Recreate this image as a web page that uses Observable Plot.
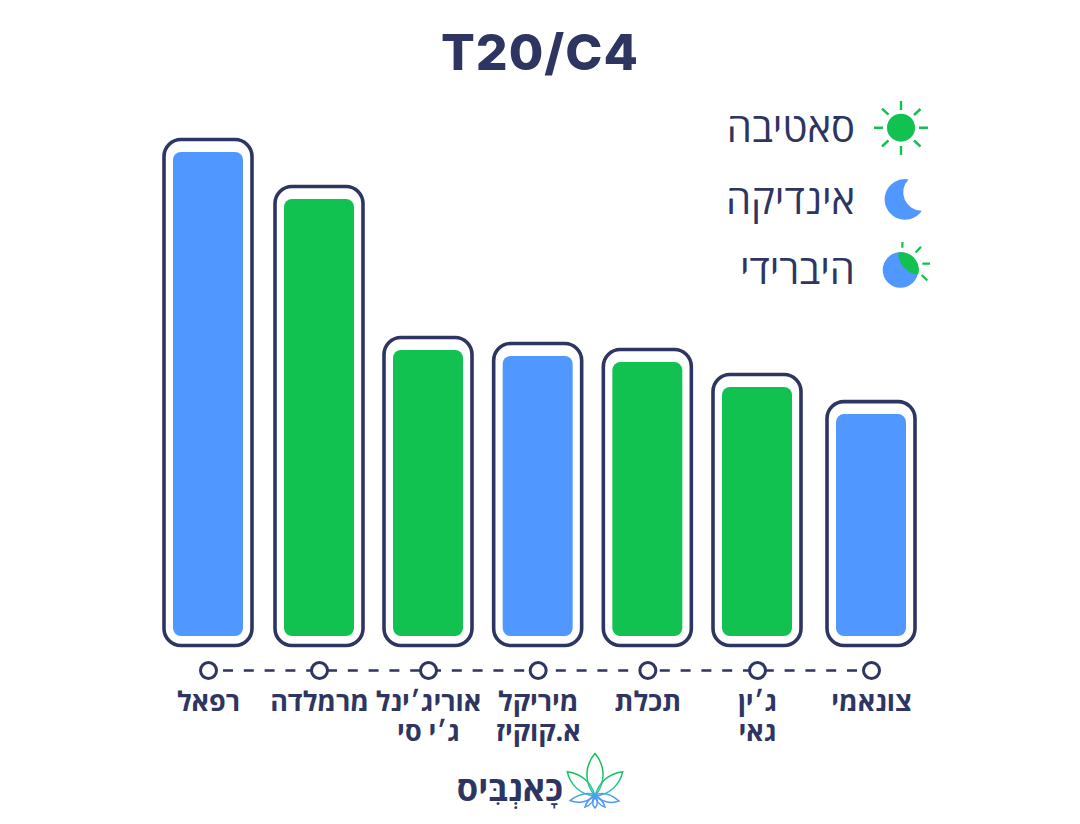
<!DOCTYPE html>
<html lang="he">
<head>
<meta charset="utf-8">
<script src="https://cdn.jsdelivr.net/npm/d3@7"></script>
<script src="https://cdn.jsdelivr.net/npm/@observablehq/plot@0.6"></script>
<style>
html,body{margin:0;padding:0;background:#fff;width:1080px;height:824px;overflow:hidden}
body{position:relative;font-family:"Open Sans","Liberation Sans","DejaVu Sans",sans-serif;color:#2e3561}
h1{margin:0;height:100px;text-align:center;font:800 50px/104px "Inter","Liberation Sans",sans-serif;letter-spacing:1px;color:#2e3561}
#chart svg{display:block}
.legend{position:absolute;right:225px;font-size:40px;line-height:48px;font-weight:400;direction:rtl;color:#2e3561}
.abs{position:absolute;left:0;top:0;pointer-events:none}
#brand{position:absolute;left:448px;top:765px;width:115px;text-align:right;font:700 34.5px/46px "Open Sans","Liberation Sans",sans-serif;color:#2e3561;direction:rtl}
</style>
</head>
<body>
<h1>T20/C4</h1>
<div id="chart"></div>
<div class="legend" style="top:103px">סאטיבה</div>
<div class="legend" style="top:175px">אינדיקה</div>
<div class="legend" style="top:245px">היברידי</div>
<svg class="abs" width="1080" height="824" viewBox="0 0 1080 824" fill="none">
  <defs>
    <linearGradient id="leaf" gradientUnits="userSpaceOnUse" x1="0" y1="770" x2="0" y2="805">
      <stop offset="0" stop-color="#11c251"/><stop offset="0.55" stop-color="#2fc79a"/><stop offset="0.8" stop-color="#5097ff"/>
    </linearGradient>
  </defs>
  <g stroke="#11c251" stroke-width="2.4">
    <circle cx="901" cy="127.7" r="14" fill="#11c251" stroke="none"/>
    <path d="M901 101v9M901 146v9M874 127.7h9M919 127.7h9M882 108.7l6.5 6M914 140.5l6.5 6M882 146.5l6.5-6M914 115l6.5-6"/>
  </g>
  <path d="M908.5 179.4A20.3 20.3 0 1 0 921.8 210.7A18.4 18.4 0 0 1 908.5 179.4Z" fill="#5097ff"/>
  <circle cx="900.5" cy="270" r="17.8" fill="#5097ff"/>
  <path d="M898.3 252.4A17.8 17.8 0 0 1 918.3 274.4A21 21 0 0 1 898.3 252.4Z" fill="#11c251"/>
  <path d="M902.4 242v5.8M915.6 252.6l5.4-5.8M922.3 263.7h7.7M921.7 275l5.6 5.5" stroke="#11c251" stroke-width="2.2"/>
  <g stroke="url(#leaf)" stroke-width="1.5">
    <path d="M595 753.5C585 765 583.5 782 595 796C606.5 782 605 765 595 753.5Z"/>
    <path d="M567.3 771.7C576 773 590 778 595 796C581 795 570 785 567.3 771.7Z"/>
    <path d="M622.7 771.7C614 773 600 778 595 796C609 795 620 785 622.7 771.7Z"/>
    <path d="M570 800.5C578 794 588 792 595 795C589 802 578 804 570 800.5Z"/>
    <path d="M619 801C611 794 602 792 595 795C601 802 611 804 619 801Z"/>
    <path d="M585 807C587 801 591 797 595 795C595 800 591 805 585 807Z"/>
    <path d="M605 807C603 801 599 797 595 795C595 800 599 805 605 807Z"/>
    <path d="M595 795C592 800 592 805 595 808C598 805 598 800 595 795Z"/>
  </g>
</svg>
<div id="brand">כָּאנְבִּיס</div>
<script>
const names = ["רפאל", "מרמלדה", "אוריג׳ינל\nג׳י סי", "מיריקל\nא.קוקיז", "תכלת", "ג׳ין\nגאי", "צונאמי"];
const values = [20, 18.06, 11.82, 11.57, 11.32, 10.29, 9.17];
const kinds = ["indica", "sativa", "sativa", "indica", "sativa", "sativa", "indica"];
const kindDomain = ["sativa", "indica"];
const kindColors = ["#11c251", "#5097ff"];
const navy = "#2e3561";
const rows = names.map((name, i) => ({i, name, value: values[i], kind: kinds[i]}));

const plot = Plot.plot({
  width: 1080,
  height: 652,
  marginTop: 52,
  marginBottom: 116,
  marginLeft: 0,
  marginRight: 0,
  style: {background: "transparent", overflow: "visible"},
  x: {type: "linear", domain: [0, 1, 2, 5, 6], range: [208, 319, 428, 757, 871], axis: null},
  y: {domain: [0, 20], axis: null},
  color: {domain: kindDomain, range: kindColors},
  marks: [
    Plot.rect(rows, {x1: "i", x2: "i", y1: 0, y2: "value", insetLeft: -44, insetRight: -44, insetTop: -12.5, insetBottom: -9.5, rx: 17, fill: "white", stroke: navy, strokeWidth: 3.6}),
    Plot.rect(rows, {x1: "i", x2: "i", y1: 0, y2: "value", insetLeft: -35, insetRight: -35, rx: 8, fill: "kind"}),
    Plot.ruleY([0], {x1: 0, x2: 6, dy: 34, stroke: navy, strokeWidth: 2.6, strokeDasharray: "10 10.8", strokeDashoffset: 5.8}),
    Plot.dot(rows, {x: "i", y: 0, dy: 34, r: 8, fill: "white", stroke: navy, strokeWidth: 3}),
    Plot.text(rows, {x: "i", y: 0, dy: 53, text: "name", lineAnchor: "top", fontSize: 27, fontWeight: 700, lineHeight: 1.12, fill: navy, fontFamily: "'Open Sans','Liberation Sans',sans-serif"})
  ]
});
document.getElementById("chart").append(plot);
</script>
</body>
</html>
